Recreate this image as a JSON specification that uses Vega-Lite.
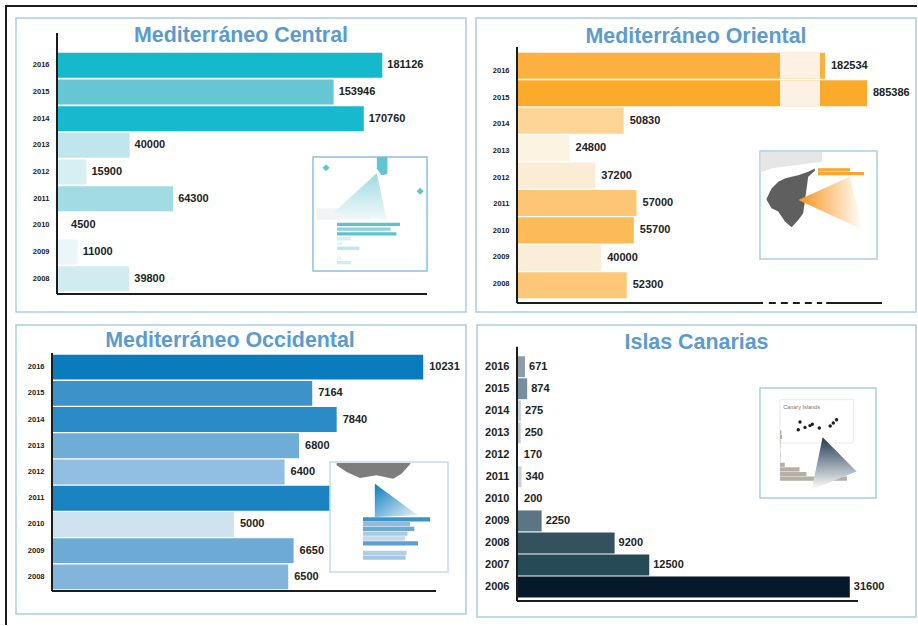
{
"$schema":"https://vega.github.io/schema/vega-lite/v6.json",
"background":"#ffffff",
"padding":{"left":5,"top":5,"right":0,"bottom":0},
"config":{"view":{"stroke":null},"text":{"font":"Liberation Sans"},"axis":{"labelFont":"Liberation Sans"}},
"datasets":{
"central":[{"year":2016,"value":181126},{"year":2015,"value":153946},{"year":2014,"value":170760},{"year":2013,"value":40000},{"year":2012,"value":15900},{"year":2011,"value":64300},{"year":2010,"value":4500},{"year":2009,"value":11000},{"year":2008,"value":39800}],
"oriental":[{"year":2016,"value":182534},{"year":2015,"value":885386},{"year":2014,"value":50830},{"year":2013,"value":24800},{"year":2012,"value":37200},{"year":2011,"value":57000},{"year":2010,"value":55700},{"year":2009,"value":40000},{"year":2008,"value":52300}],
"occidental":[{"year":2016,"value":10231},{"year":2015,"value":7164},{"year":2014,"value":7840},{"year":2013,"value":6800},{"year":2012,"value":6400},{"year":2011,"value":8400},{"year":2010,"value":5000},{"year":2009,"value":6650},{"year":2008,"value":6500}],
"canarias":[{"year":2016,"value":671},{"year":2015,"value":874},{"year":2014,"value":275},{"year":2013,"value":250},{"year":2012,"value":170},{"year":2011,"value":340},{"year":2010,"value":200},{"year":2009,"value":2250},{"year":2008,"value":9200},{"year":2007,"value":12500},{"year":2006,"value":31600}],
"one":[{}]
},
"vconcat":[
{"width":912,"height":2,"data":{"name":"one"},"mark":{"type":"rect","color":"#1c1c1c"},"encoding":{}},
{"hconcat":[
{"width":2,"height":618,"data":{"name":"one"},"mark":{"type":"rect","color":"#1c1c1c"},"encoding":{}},
{"vconcat":[
{"vconcat":[
{"width":450,"height":1,"data":{"name":"one"},"mark":{"type":"rect","opacity":0},"encoding":{}},
{"hconcat":[
{"width":450,"height":294,"view":{"stroke":"#a9cde6","strokeWidth":1.5},
"title":{"text":"Mediterráneo Central","offset":-28,"fontSize":21.4,"font":"Liberation Sans","fontWeight":"bold","color":"#5b9bd0","anchor":"middle"},
"layer":[
{"data":{"name":"central"},"mark":{"type":"bar"},"encoding":{
"x":{"field":"value","type":"quantitative","stack":null,"title":null,"axis":null,"scale":{"domain":[0,210000],"range":[42,418]}},
"y":{"field":"year","type":"ordinal","scale":{"type":"band","domain":[2016,2015,2014,2013,2012,2011,2010,2009,2008],"range":[34,274],"paddingInner":0.06},"axis":{"offset":-41,"domain":false,"ticks":false,"grid":false,"labelPadding":8,"title":null,"labelFontSize":7.5,"labelFontWeight":"bold","labelColor":"#222222"}},
"color":{"field":"year","type":"ordinal","legend":null,"scale":{"domain":[2016,2015,2014,2013,2012,2011,2010,2009,2008],"range":["#16b8cc","#66c6d3","#17b9cf","#bfe6ec","#d5eff2","#a3dbe3","#ffffff","#eaf6f7","#d0ecf1"]}}}},
{"data":{"name":"central"},"mark":{"type":"text","align":"left","dx":5,"fontSize":11,"fontWeight":"bold","color":"#222222"},"encoding":{
"x":{"field":"value","type":"quantitative","axis":null,"scale":{"domain":[0,210000],"range":[42,418]}},
"y":{"field":"year","type":"ordinal","axis":null,"scale":{"type":"band","domain":[2016,2015,2014,2013,2012,2011,2010,2009,2008],"range":[34,274],"paddingInner":0.06}},
"text":{"field":"value","type":"quantitative"}}},
{"data":{"name":"one"},"mark":{"type":"rule","color":"#1c1c1c","strokeWidth":2},"encoding":{"x":{"datum":0,"axis":null,"scale":{"domain":[0,1],"range":[41,411]}},"x2":{"datum":1},"y":{"datum":0,"axis":null,"scale":{"domain":[0,1],"range":[276,15]}}}},
{"data":{"name":"one"},"mark":{"type":"rule","color":"#1c1c1c","strokeWidth":2},"encoding":{"x":{"datum":0,"axis":null,"scale":{"domain":[0,1],"range":[41,411]}},"y":{"datum":0,"axis":null,"scale":{"domain":[0,1],"range":[276,15]}},"y2":{"datum":1}}},
{"data":{"name":"one"},"mark":{"type":"rect","fill":"#ffffff","stroke":"#8fbfe0","strokeWidth":1.5},"encoding":{"x":{"datum":0,"axis":null,"scale":{"domain":[0,1],"range":[297,411]}},"x2":{"datum":1},"y":{"datum":0,"axis":null,"scale":{"domain":[0,1],"range":[139,253]}},"y2":{"datum":1}}},
{"data":{"values":[{"u":0.03,"v":0.45,"w":0.55},{"u":0.5,"v":0.45,"w":0.55}]},"mark":{"type":"area","color":"#f0f4f4"},"encoding":{"x":{"field":"u","type":"quantitative","axis":null,"scale":{"domain":[0,1],"range":[297,411]}},"y":{"field":"v","type":"quantitative","axis":null,"scale":{"domain":[0,1],"range":[139,253]}},"y2":{"field":"w"}}},
{"data":{"values":[{"u":0.176,"v":0.493,"w":0.493},{"u":0.559,"v":0.14,"w":0.54},{"u":0.647,"v":0.551,"w":0.551}]},"mark":{"type":"area","color":{"gradient":"linear","x1":0,"y1":0,"x2":0,"y2":1,"stops":[{"offset":0,"color":"#a0dae3"},{"offset":1,"color":"#f0f9fa"}]}},"encoding":{"x":{"field":"u","type":"quantitative","axis":null,"scale":{"domain":[0,1],"range":[297,411]}},"y":{"field":"v","type":"quantitative","axis":null,"scale":{"domain":[0,1],"range":[139,253]}},"y2":{"field":"w"}}},
{"data":{"values":[{"u":0.56,"v":0,"w":0.1},{"u":0.6,"v":0,"w":0.16},{"u":0.653,"v":0,"w":0.15}]},"mark":{"type":"area","color":"#62c3d1"},"encoding":{"x":{"field":"u","type":"quantitative","axis":null,"scale":{"domain":[0,1],"range":[297,411]}},"y":{"field":"v","type":"quantitative","axis":null,"scale":{"domain":[0,1],"range":[139,253]}},"y2":{"field":"w"}}},
{"data":{"values":[{"u":0.115,"v":0.095},{"u":0.94,"v":0.3}]},"mark":{"type":"point","shape":"diamond","filled":true,"color":"#62c3d1","size":50,"opacity":1},"encoding":{"x":{"field":"u","type":"quantitative","axis":null,"scale":{"domain":[0,1],"range":[297,411]}},"y":{"field":"v","type":"quantitative","axis":null,"scale":{"domain":[0,1],"range":[139,253]}}}},
{"data":{"name":"central"},"mark":{"type":"bar"},"encoding":{
"x":{"field":"value","type":"quantitative","stack":null,"axis":null,"scale":{"domain":[0,181126],"range":[321,384]}},
"y":{"field":"year","type":"ordinal","axis":null,"scale":{"type":"band","domain":[2016,2015,2014,2013,2012,2011,2010,2009,2008],"range":[204,247],"paddingInner":0.3}},
"color":{"field":"year","type":"ordinal","legend":null,"scale":{"domain":[2016,2015,2014,2013,2012,2011,2010,2009,2008],"range":["#5cc2d0","#8ad3dc","#5cc2d0","#d5eff2","#e2f4f6","#bfe6ec","#ffffff","#eaf6f7","#d0ecf1"]}}}}
],
"resolve":{"scale":{"x":"independent","y":"independent","color":"independent"}}},
{"width":440,"height":294,"view":{"stroke":"#a9cde6","strokeWidth":1.5},
"title":{"text":"Mediterráneo Oriental","offset":-29,"fontSize":21.4,"font":"Liberation Sans","fontWeight":"bold","color":"#5b9bd0","anchor":"middle"},
"layer":[
{"data":{"name":"oriental"},"mark":{"type":"bar"},"encoding":{
"x":{"field":"value","type":"quantitative","stack":null,"axis":null,"scale":{"domain":[0,126000,140000,182534,885386],"range":[42,304,344,349,391]}},
"y":{"field":"year","type":"ordinal","axis":null,"scale":{"type":"band","domain":[2016,2015,2014,2013,2012,2011,2010,2009,2008],"range":[34,281],"paddingInner":0.05}},
"color":{"field":"year","type":"ordinal","legend":null,"scale":{"domain":[2016,2015,2014,2013,2012,2011,2010,2009,2008],"range":["#fbb040","#fbab2b","#fdd596","#fdf3e3","#fbecd5","#fcc675","#fcbb58","#fbeed9","#fcc878"]}}}},
{"data":{"name":"oriental"},"transform":[{"filter":"datum.year >= 2015"}],"mark":{"type":"bar","color":"#fcf1e2"},"encoding":{
"x":{"datum":126000,"axis":null,"scale":{"domain":[0,126000,140000,182534,885386],"range":[42,304,344,349,391]}},"x2":{"datum":140000},
"y":{"field":"year","type":"ordinal","axis":null,"scale":{"type":"band","domain":[2016,2015,2014,2013,2012,2011,2010,2009,2008],"range":[34,281],"paddingInner":0.05}}}},
{"data":{"name":"oriental"},"mark":{"type":"bar","opacity":0},"encoding":{
"x":{"datum":0,"axis":null,"scale":{"domain":[0,1],"range":[42,43]}},
"y":{"field":"year","type":"ordinal","scale":{"type":"band","domain":[2016,2015,2014,2013,2012,2011,2010,2009,2008],"range":[39.7,279.3]},"axis":{"offset":-41,"domain":false,"ticks":false,"grid":false,"labelPadding":8,"title":null,"labelFontSize":7.5,"labelFontWeight":"bold","labelColor":"#222222"}}}},
{"data":{"name":"oriental"},"mark":{"type":"text","align":"left","dx":6,"fontSize":11,"fontWeight":"bold","color":"#222222"},"encoding":{
"x":{"field":"value","type":"quantitative","axis":null,"scale":{"domain":[0,126000,140000,182534,885386],"range":[42,304,344,349,391]}},
"y":{"field":"year","type":"ordinal","axis":null,"scale":{"type":"band","domain":[2016,2015,2014,2013,2012,2011,2010,2009,2008],"range":[34,281],"paddingInner":0.05}},
"text":{"field":"value","type":"quantitative"}}},
{"data":{"name":"one"},"mark":{"type":"rule","color":"#1c1c1c","strokeWidth":2},"encoding":{"x":{"datum":0,"axis":null,"scale":{"domain":[0,1],"range":[41,406]}},"x2":{"datum":0.674},"y":{"datum":0,"axis":null,"scale":{"domain":[0,1],"range":[285,29]}}}},
{"data":{"name":"one"},"mark":{"type":"rule","color":"#1c1c1c","strokeWidth":2,"strokeDash":[7,5]},"encoding":{"x":{"datum":0.69,"axis":null,"scale":{"domain":[0,1],"range":[41,406]}},"x2":{"datum":0.836},"y":{"datum":0,"axis":null,"scale":{"domain":[0,1],"range":[285,29]}}}},
{"data":{"name":"one"},"mark":{"type":"rule","color":"#1c1c1c","strokeWidth":2},"encoding":{"x":{"datum":0.847,"axis":null,"scale":{"domain":[0,1],"range":[41,406]}},"x2":{"datum":1},"y":{"datum":0,"axis":null,"scale":{"domain":[0,1],"range":[285,29]}}}},
{"data":{"name":"one"},"mark":{"type":"rule","color":"#1c1c1c","strokeWidth":2},"encoding":{"x":{"datum":0,"axis":null,"scale":{"domain":[0,1],"range":[41,406]}},"y":{"datum":0,"axis":null,"scale":{"domain":[0,1],"range":[285,29]}},"y2":{"datum":1}}},
{"data":{"name":"one"},"mark":{"type":"rect","fill":"#ffffff","stroke":"#a9cde6","strokeWidth":1.5},"encoding":{"x":{"datum":0,"axis":null,"scale":{"domain":[0,1],"range":[284,401]}},"x2":{"datum":1},"y":{"datum":0,"axis":null,"scale":{"domain":[0,1],"range":[133,241]}},"y2":{"datum":1}}},
{"data":{"values":[{"u":0.005,"v":0.01,"w":0.2},{"u":0.1,"v":0.01,"w":0.16},{"u":0.53,"v":0.01,"w":0.1}]},"mark":{"type":"area","color":"#e6e6e6"},"encoding":{"x":{"field":"u","type":"quantitative","axis":null,"scale":{"domain":[0,1],"range":[284,401]}},"y":{"field":"v","type":"quantitative","axis":null,"scale":{"domain":[0,1],"range":[133,241]}},"y2":{"field":"w"}}},
{"data":{"values":[{"u":0.057,"v":0.439,"w":0.454},{"u":0.099,"v":0.347,"w":0.531},{"u":0.156,"v":0.285,"w":0.561},{"u":0.213,"v":0.255,"w":0.653},{"u":0.27,"v":0.239,"w":0.706},{"u":0.327,"v":0.224,"w":0.638},{"u":0.369,"v":0.209,"w":0.577},{"u":0.412,"v":0.193,"w":0.239},{"u":0.469,"v":0.163,"w":0.184}]},"mark":{"type":"area","color":"#5f5f5f"},"encoding":{"x":{"field":"u","type":"quantitative","axis":null,"scale":{"domain":[0,1],"range":[284,401]}},"y":{"field":"v","type":"quantitative","axis":null,"scale":{"domain":[0,1],"range":[133,241]}},"y2":{"field":"w"}}},
{"data":{"values":[{"u":0.327,"v":0.454,"w":0.454},{"u":0.767,"v":0.239,"w":0.674},{"u":0.88,"v":0.73,"w":0.73}]},"mark":{"type":"area","color":{"gradient":"linear","x1":0,"y1":0,"x2":1,"y2":0,"stops":[{"offset":0,"color":"#f7941d"},{"offset":1,"color":"#ffffff"}]}},"encoding":{"x":{"field":"u","type":"quantitative","axis":null,"scale":{"domain":[0,1],"range":[284,401]}},"y":{"field":"v","type":"quantitative","axis":null,"scale":{"domain":[0,1],"range":[133,241]}},"y2":{"field":"w"}}},
{"data":{"name":"oriental"},"transform":[{"filter":"datum.year >= 2015"}],"mark":{"type":"bar","color":"#f9a635"},"encoding":{
"x":{"field":"value","type":"quantitative","stack":null,"axis":null,"scale":{"domain":[0,182534,885386],"range":[342,374,388]}},
"y":{"field":"year","type":"ordinal","axis":null,"scale":{"type":"band","domain":[2016,2015],"range":[150,157.5]}}}}
],
"resolve":{"scale":{"x":"independent","y":"independent","color":"independent"}}}
],"spacing":8}
],"spacing":9},
{"hconcat":[
{"width":450,"height":289,"view":{"stroke":"#a9cde6","strokeWidth":1.5},
"title":{"text":"Mediterráneo Occidental","offset":-26,"dx":-11,"fontSize":21.4,"font":"Liberation Sans","fontWeight":"bold","color":"#5b9bd0","anchor":"middle"},
"layer":[
{"data":{"name":"occidental"},"mark":{"type":"bar"},"encoding":{
"x":{"field":"value","type":"quantitative","stack":null,"axis":null,"scale":{"domain":[0,11000],"range":[37,435]}},
"y":{"field":"year","type":"ordinal","scale":{"type":"band","domain":[2016,2015,2014,2013,2012,2011,2010,2009,2008],"range":[29,265],"paddingInner":0.05},"axis":{"offset":-36,"domain":false,"ticks":false,"grid":false,"labelPadding":8,"title":null,"labelFontSize":7.5,"labelFontWeight":"bold","labelColor":"#222222"}},
"color":{"field":"year","type":"ordinal","legend":null,"scale":{"domain":[2016,2015,2014,2013,2012,2011,2010,2009,2008],"range":["#0a7cbd","#3d92c9","#2a8bc6","#6fadd7","#90bfe2","#1a83c2","#cfe2f0","#6daad6","#83b5dc"]}}}},
{"data":{"name":"occidental"},"transform":[{"filter":"datum.year != 2011"}],"mark":{"type":"text","align":"left","dx":6,"fontSize":11,"fontWeight":"bold","color":"#222222"},"encoding":{
"x":{"field":"value","type":"quantitative","axis":null,"scale":{"domain":[0,11000],"range":[37,435]}},
"y":{"field":"year","type":"ordinal","axis":null,"scale":{"type":"band","domain":[2016,2015,2014,2013,2012,2011,2010,2009,2008],"range":[29,265],"paddingInner":0.05}},
"text":{"field":"value","type":"quantitative"}}},
{"data":{"name":"one"},"mark":{"type":"rule","color":"#1c1c1c","strokeWidth":2},"encoding":{"x":{"datum":0,"axis":null,"scale":{"domain":[0,1],"range":[36,420]}},"x2":{"datum":1},"y":{"datum":0,"axis":null,"scale":{"domain":[0,1],"range":[266,28]}}}},
{"data":{"name":"one"},"mark":{"type":"rule","color":"#1c1c1c","strokeWidth":2},"encoding":{"x":{"datum":0,"axis":null,"scale":{"domain":[0,1],"range":[36,420]}},"y":{"datum":0,"axis":null,"scale":{"domain":[0,1],"range":[266,28]}},"y2":{"datum":1}}},
{"data":{"name":"one"},"mark":{"type":"rect","fill":"#ffffff","stroke":"#c4dcee","strokeWidth":1.5},"encoding":{"x":{"datum":0,"axis":null,"scale":{"domain":[0,1],"range":[314,432]}},"x2":{"datum":1},"y":{"datum":0,"axis":null,"scale":{"domain":[0,1],"range":[137,247]}},"y2":{"datum":1}}},
{"data":{"values":[{"u":0.056,"v":0.01,"w":0.03},{"u":0.141,"v":0.01,"w":0.09},{"u":0.254,"v":0.01,"w":0.145},{"u":0.394,"v":0.01,"w":0.12},{"u":0.535,"v":0.01,"w":0.152},{"u":0.606,"v":0.01,"w":0.106},{"u":0.682,"v":0.01,"w":0.015}]},"mark":{"type":"area","color":"#7d7d7d"},"encoding":{"x":{"field":"u","type":"quantitative","axis":null,"scale":{"domain":[0,1],"range":[314,432]}},"y":{"field":"v","type":"quantitative","axis":null,"scale":{"domain":[0,1],"range":[137,247]}},"y2":{"field":"w"}}},
{"data":{"values":[{"u":0.38,"v":0.197,"w":0.5},{"u":0.746,"v":0.485,"w":0.485}]},"mark":{"type":"area","color":{"gradient":"linear","x1":0,"y1":0,"x2":1,"y2":1,"stops":[{"offset":0,"color":"#0a7cbd"},{"offset":1,"color":"#eaf4fa"}]}},"encoding":{"x":{"field":"u","type":"quantitative","axis":null,"scale":{"domain":[0,1],"range":[314,432]}},"y":{"field":"v","type":"quantitative","axis":null,"scale":{"domain":[0,1],"range":[137,247]}},"y2":{"field":"w"}}},
{"data":{"name":"occidental"},"mark":{"type":"bar"},"encoding":{
"x":{"field":"value","type":"quantitative","stack":null,"axis":null,"scale":{"domain":[0,10231],"range":[347,414]}},
"y":{"field":"year","type":"ordinal","axis":null,"scale":{"type":"band","domain":[2016,2015,2014,2013,2012,2011,2010,2009,2008],"range":[192,235],"paddingInner":0.1}},
"color":{"field":"year","type":"ordinal","legend":null,"scale":{"domain":[2016,2015,2014,2013,2012,2011,2010,2009,2008],"range":["#3d92c9","#8fbcdc","#6fa9d2","#a9cbe4","#c3dbed","#5da0cf","#ffffff","#b0cfe6","#a5c8e2"]}}}}
],
"resolve":{"scale":{"x":"independent","y":"independent","color":"independent"}}},
{"width":439,"height":292,"view":{"stroke":"#a9cde6","strokeWidth":1.5},
"title":{"text":"Islas Canarias","offset":-28,"fontSize":21.4,"font":"Liberation Sans","fontWeight":"bold","color":"#5b9bd0","anchor":"middle"},
"layer":[
{"data":{"name":"canarias"},"mark":{"type":"bar"},"encoding":{
"x":{"field":"value","type":"quantitative","stack":null,"axis":null,"scale":{"domain":[0,33000],"range":[41,387.5]}},
"y":{"field":"year","type":"ordinal","scale":{"type":"band","domain":[2016,2015,2014,2013,2012,2011,2010,2009,2008,2007,2006],"range":[30.7,273],"paddingInner":0.05},"axis":{"offset":-40,"domain":false,"ticks":false,"grid":false,"labelPadding":8,"title":null,"labelFontSize":11,"labelFontWeight":"bold","labelColor":"#222222"}},
"color":{"field":"year","type":"ordinal","legend":null,"scale":{"domain":[2016,2015,2014,2013,2012,2011,2010,2009,2008,2007,2006],"range":["#8d9ca6","#78909e","#c8d0d4","#c0c8cc","#ffffff","#ccd3d6","#ffffff","#5c7585","#33515f","#274a57","#06192b"]}}}},
{"data":{"name":"canarias"},"mark":{"type":"text","align":"left","dx":4,"fontSize":11,"fontWeight":"bold","color":"#222222"},"encoding":{
"x":{"field":"value","type":"quantitative","axis":null,"scale":{"domain":[0,33000],"range":[41,387.5]}},
"y":{"field":"year","type":"ordinal","axis":null,"scale":{"type":"band","domain":[2016,2015,2014,2013,2012,2011,2010,2009,2008,2007,2006],"range":[30.7,273],"paddingInner":0.05}},
"text":{"field":"value","type":"quantitative"}}},
{"data":{"name":"one"},"mark":{"type":"rule","color":"#1c1c1c","strokeWidth":2},"encoding":{"x":{"datum":0,"axis":null,"scale":{"domain":[0,1],"range":[40,381]}},"x2":{"datum":1},"y":{"datum":0,"axis":null,"scale":{"domain":[0,1],"range":[276,21.7]}}}},
{"data":{"name":"one"},"mark":{"type":"rule","color":"#1c1c1c","strokeWidth":2},"encoding":{"x":{"datum":0,"axis":null,"scale":{"domain":[0,1],"range":[40,381]}},"y":{"datum":0,"axis":null,"scale":{"domain":[0,1],"range":[276,21.7]}},"y2":{"datum":1}}},
{"data":{"name":"one"},"mark":{"type":"rect","fill":"#ffffff","stroke":"#a9cde6","strokeWidth":1.5},"encoding":{"x":{"datum":0,"axis":null,"scale":{"domain":[0,1],"range":[283,399]}},"x2":{"datum":1},"y":{"datum":0,"axis":null,"scale":{"domain":[0,1],"range":[63,173]}},"y2":{"datum":1}}},
{"data":{"name":"one"},"mark":{"type":"rect","fill":"#ffffff","stroke":"#e3e3e3","strokeWidth":0.75},"encoding":{"x":{"datum":0.172,"axis":null,"scale":{"domain":[0,1],"range":[283,399]}},"x2":{"datum":0.805},"y":{"datum":0.106,"axis":null,"scale":{"domain":[0,1],"range":[63,173]}},"y2":{"datum":0.5}}},
{"data":{"values":[{"u":0.2,"v":0.173,"t":"Canary Islands"}]},"mark":{"type":"text","align":"left","fontSize":5.5,"color":"#8a6f6a"},"encoding":{"x":{"field":"u","type":"quantitative","axis":null,"scale":{"domain":[0,1],"range":[283,399]}},"y":{"field":"v","type":"quantitative","axis":null,"scale":{"domain":[0,1],"range":[63,173]}},"text":{"field":"t"}}},
{"data":{"values":[{"u":0.345,"v":0.309},{"u":0.33,"v":0.379},{"u":0.388,"v":0.358},{"u":0.431,"v":0.342},{"u":0.451,"v":0.33},{"u":0.511,"v":0.364},{"u":0.605,"v":0.345},{"u":0.632,"v":0.318},{"u":0.66,"v":0.288}]},"mark":{"type":"point","shape":"circle","filled":true,"color":"#1f1f1f","size":12,"opacity":1},"encoding":{"x":{"field":"u","type":"quantitative","axis":null,"scale":{"domain":[0,1],"range":[283,399]}},"y":{"field":"v","type":"quantitative","axis":null,"scale":{"domain":[0,1],"range":[63,173]}}}},
{"data":{"name":"canarias"},"mark":{"type":"bar","color":"#b5afa5"},"encoding":{
"x":{"field":"value","type":"quantitative","stack":null,"axis":null,"scale":{"domain":[0,31600],"range":[303,370]}},
"y":{"field":"year","type":"ordinal","axis":null,"scale":{"type":"band","domain":[2016,2015,2014,2013,2012,2011,2010,2009,2008,2007,2006],"range":[105,156]}}}},
{"data":{"values":[{"u":0.445,"v":0.924,"w":0.924},{"u":0.54,"v":0.448,"w":0.883},{"u":0.833,"v":0.758,"w":0.758}]},"mark":{"type":"area","color":{"gradient":"linear","x1":0,"y1":0,"x2":0,"y2":1,"stops":[{"offset":0,"color":"#1e3a50"},{"offset":1,"color":"#ffffff"}]}},"encoding":{"x":{"field":"u","type":"quantitative","axis":null,"scale":{"domain":[0,1],"range":[283,399]}},"y":{"field":"v","type":"quantitative","axis":null,"scale":{"domain":[0,1],"range":[63,173]}},"y2":{"field":"w"}}}
],
"resolve":{"scale":{"x":"independent","y":"independent","color":"independent"}}}
],"spacing":9}
],"spacing":11}
],"spacing":8}
],"spacing":0
}
